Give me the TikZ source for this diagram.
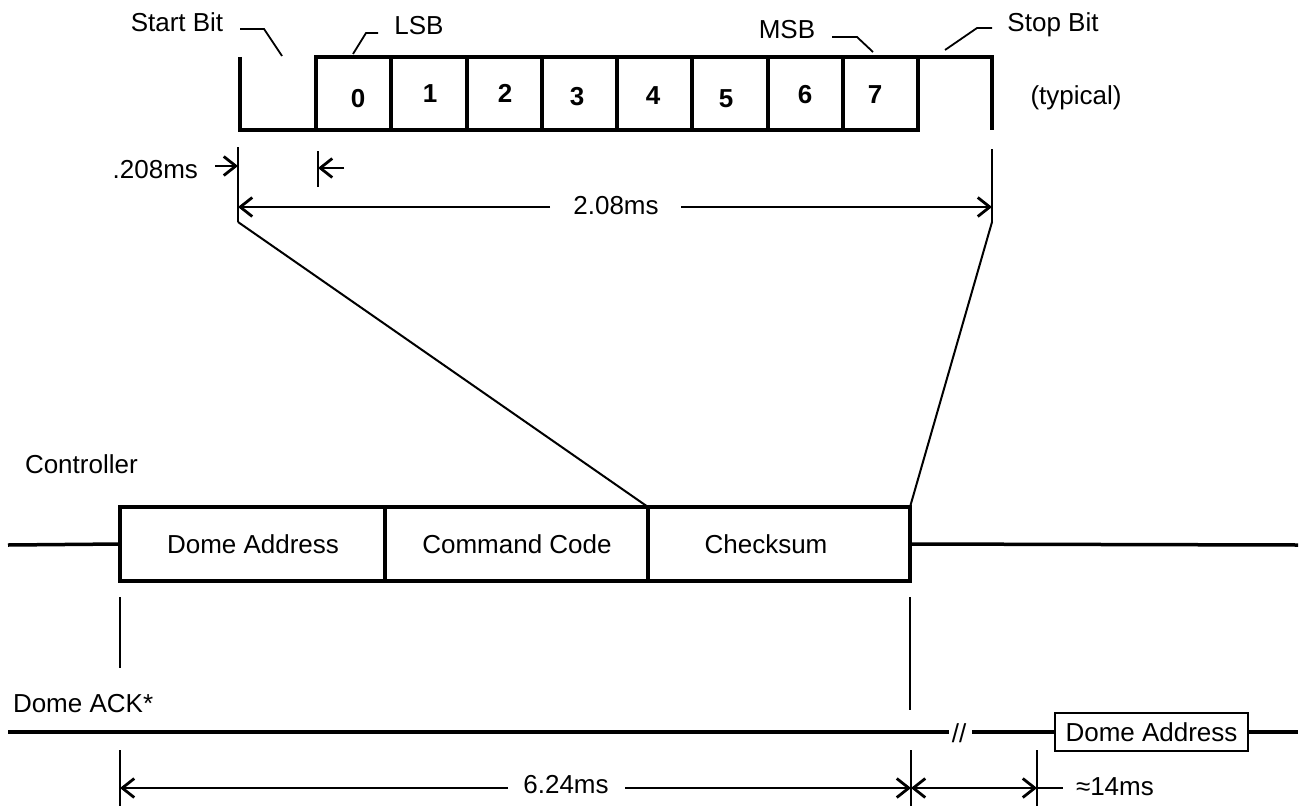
\documentclass[tikz,border=0pt]{standalone}
\usepackage{fontspec}
\setmainfont{Liberation Sans}
\usetikzlibrary{arrows.meta}
\begin{document}
\begin{tikzpicture}[x=1pt,y=-1pt,
  txt/.style={font=\fontsize{26}{31}\selectfont, inner sep=0pt, outer sep=0pt},
  digit/.style={font=\fontsize{26}{30}\selectfont\bfseries, inner sep=0pt, anchor=base},
  framel/.style={line width=4pt, line join=miter},
  cellbox/.style={draw, line width=4pt, minimum width=75.25pt, minimum height=73pt, inner sep=0pt, outer sep=0pt, anchor=north west},
  fieldbox/.style={draw, line width=4pt, minimum height=74pt, inner sep=0pt, outer sep=0pt, anchor=north west},
  wire/.style={line width=3.5pt},
  dim/.style={line width=2pt},
  leader/.style={line width=1.8pt},
  >={Straight Barb[length=12pt,width=19pt,line width=2.8pt]}
]
\useasboundingbox (0,0) rectangle (1305,808);

% ---------- byte frame ----------
\foreach \i in {0,...,7} \node[cellbox] (c\i) at ({316+75.25*\i},57) {};
\coordinate (sbTop) at (240,57);
\coordinate (sbBot) at (240,130);
\coordinate (spTop) at (992,57);
\coordinate (spBot) at (992,130);
\draw[framel] (sbTop) -- (sbBot) -- (c0.south west);
\draw[framel] (c7.north east) -- (spTop) -- (spBot);

\node[digit] (d0) at (358,107) {0};
\node[digit] (d1) at (430,102) {1};
\node[digit] (d2) at (505,102) {2};
\node[digit] (d3) at (577,105) {3};
\node[digit] (d4) at (653,104) {4};
\node[digit] (d5) at (726,107) {5};
\node[digit] (d6) at (805,103) {6};
\node[digit] (d7) at (875,103) {7};

% labels with leaders
\node[txt, anchor=base] (lstart) at (177,32) {Start Bit};
\coordinate (ls1) at (240,29); \coordinate (ls2) at (264,29); \coordinate (ls3) at (282,56);
\draw[leader] (ls1) -- (ls2) -- (ls3);
\node[txt, anchor=base] (llsb) at (419,35) {LSB};
\coordinate (ll1) at (378,33); \coordinate (ll2) at (366,33); \coordinate (ll3) at (353,54);
\draw[leader] (ll1) -- (ll2) -- (ll3);
\node[txt, anchor=base] (lmsb) at (787,38) {MSB};
\coordinate (lm1) at (832,37); \coordinate (lm2) at (857,37); \coordinate (lm3) at (873,52);
\draw[leader] (lm1) -- (lm2) -- (lm3);
\node[txt, anchor=base] (lstop) at (1053,32) {Stop Bit};
\coordinate (lp1) at (992,28); \coordinate (lp2) at (977,28); \coordinate (lp3) at (945,50);
\draw[leader] (lp1) -- (lp2) -- (lp3);
\node[txt, anchor=base] (ltyp) at (1076,104) {(typical)};

% dimensions of the byte
\coordinate (eL1) at (238,147); \coordinate (eL2) at (238,222);
\coordinate (eR1) at (992,149); \coordinate (eR2) at (992,222);
\coordinate (eB1) at (318,151); \coordinate (eB2) at (318,187);
\draw[dim] (eL1) -- (eL2);
\draw[dim] (eR1) -- (eR2);
\draw[dim] (eB1) -- (eB2);
\node[txt, anchor=base east] (t0208) at (198,178) {.208ms};
\coordinate (a1s) at (215,166); \coordinate (a1e) at (238,166);
\coordinate (a2s) at (344,168); \coordinate (a2e) at (318,168);
\draw[dim,->] (a1s) -- (a1e);
\draw[dim,->] (a2s) -- (a2e);
\node[txt, anchor=base] (t208) at (616,214) {2.08ms};
\coordinate (bL) at (238,207); \coordinate (bL2) at (550,207);
\coordinate (bR) at (992,207); \coordinate (bR2) at (681,207);
\draw[dim,->] (bL2) -- (bL);
\draw[dim,->] (bR2) -- (bR);

% ---------- controller ----------
\node[txt, anchor=base west] (lctrl) at (25,473) {Controller};
\node[fieldbox, minimum width=265pt] (fa) at (120,507) {};
\node[fieldbox, minimum width=263pt] (fc) at (385,507) {};
\node[fieldbox, minimum width=262pt] (fs) at (648,507) {};
\node[txt, anchor=base] (tfa) at (253,553) {Dome Address};
\node[txt, anchor=base] (tfc) at (517,553) {Command Code};
\node[txt, anchor=base] (tfs) at (766,553) {Checksum};
\coordinate (wL) at (8,545);
\coordinate (wR) at (1298,545);
\draw[wire] (wL) -- (fa.west);
\draw[wire] (fs.east) -- (wR);

% zoom lines
\draw[dim] (eL2) -- (fc.north east);
\draw[dim] (eR2) -- (fs.north east);

% drops
\coordinate (v1a) at (120,597); \coordinate (v1b) at (120,668);
\coordinate (v2a) at (910,597); \coordinate (v2b) at (910,710);
\draw[dim] (v1a) -- (v1b);
\draw[dim] (v2a) -- (v2b);

% ---------- dome ack ----------
\node[txt, anchor=base west] (lack) at (13,712) {Dome ACK*};
\node[txt] (brk) at (959,733) {//};
\node[txt, draw, line width=2pt, minimum width=193pt, minimum height=38pt] (ab) at (1151.5,732) {Dome Address};
\coordinate (kL) at (8,732); \coordinate (kB1) at (949,732); \coordinate (kB2) at (972,732);
\coordinate (kR) at (1298,732);
\draw[wire] (kL) -- (kB1);
\draw[wire] (kB2) -- (ab.west);
\draw[wire] (ab.east) -- (kR);

% bottom dimensions
\coordinate (g1a) at (120,750); \coordinate (g1b) at (120,806);
\coordinate (g2a) at (911,750); \coordinate (g2b) at (911,806);
\coordinate (g3a) at (1037,750); \coordinate (g3b) at (1037,806);
\draw[dim] (g1a) -- (g1b);
\draw[dim] (g2a) -- (g2b);
\draw[dim] (g3a) -- (g3b);
\coordinate (h1) at (120,788); \coordinate (h1e) at (508,788);
\coordinate (h2) at (911,788); \coordinate (h2s) at (625,788);
\coordinate (h3) at (1037,788); \coordinate (h4) at (1063,788);
\draw[dim,->] (h1e) -- (h1);
\node[txt, anchor=base] (t624) at (566,793) {6.24ms};
\draw[dim,->] (h2s) -- (h2);
\draw[dim,<->] (h2) -- (h3);
\draw[dim] (h3) -- (h4);
\node[txt, anchor=base west] (t14) at (1076,795) {≈14ms};
\end{tikzpicture}
\end{document}
